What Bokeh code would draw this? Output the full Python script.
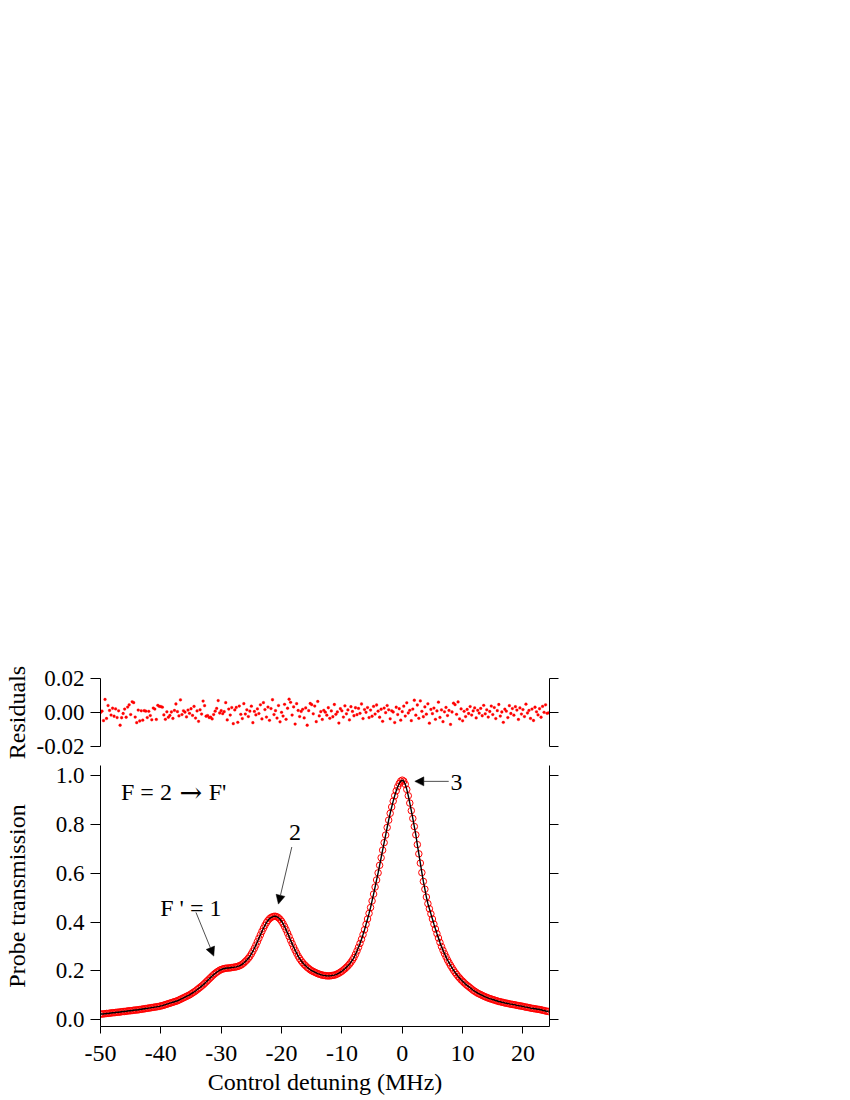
import numpy as np
from bokeh.plotting import figure
from bokeh.layouts import column
from bokeh.models import (LinearAxis, FixedTicker, NumeralTickFormatter, Arrow,
                          NormalHead, Label, Range1d, ColumnDataSource)
from bokeh.embed import file_html
from bokeh.resources import INLINE

FONT = "Liberation Serif"

# detuning grid (MHz), sampled every 0.25 MHz from -50 to 24.25
detuning = np.arange(298) * 0.25 - 50.0

transmission = [
    .023, .024, .024, .025, .026, .026, .027, .028, .029, .029,
    .030, .031, .031, .032, .033, .034, .034, .035, .036, .037,
    .037, .038, .039, .040, .040, .041, .042, .043, .044, .045,
    .046, .047, .048, .049, .050, .051, .052, .053, .054, .055,
    .057, .058, .060, .062, .064, .066, .068, .070, .072, .074,
    .076, .078, .081, .084, .087, .090, .093, .096, .099, .102,
    .106, .110, .114, .118, .123, .128, .133, .138, .143, .149,
    .155, .161, .167, .173, .179, .185, .190, .195, .199, .203,
    .206, .208, .210, .211, .212, .212, .213, .214, .215, .216,
    .217, .219, .221, .224, .228, .233, .239, .245, .252, .260,
    .270, .281, .293, .306, .320, .334, .348, .362, .375, .387,
    .398, .407, .414, .419, .422, .424, .424, .422, .418, .412,
    .404, .394, .382, .369, .355, .341, .326, .312, .298, .285,
    .273, .261, .251, .242, .234, .227, .221, .215, .210, .205,
    .201, .198, .195, .192, .189, .187, .185, .183, .182, .181,
    .180, .180, .180, .181, .182, .183, .185, .188, .191, .195,
    .199, .204, .209, .215, .221, .228, .236, .245, .255, .268,
    .282, .297, .313, .330, .349, .369, .391, .413, .436, .460,
    .487, .515, .544, .573, .602, .633, .664, .695, .726, .757,
    .788, .818, .846, .872, .896, .918, .938, .955, .968, .978,
    .982, .978, .965, .944, .918, .888, .857, .825, .792, .758,
    .718, .680, .642, .603, .567, .535, .503, .476, .455, .434,
    .413, .392, .372, .353, .335, .317, .300, .285, .271, .258,
    .245, .234, .223, .213, .203, .194, .186, .178, .171, .164,
    .158, .152, .146, .141, .136, .131, .126, .121, .117, .113,
    .109, .106, .103, .100, .097, .094, .092, .089, .087, .085,
    .083, .081, .079, .077, .075, .074, .072, .071, .069, .068,
    .067, .065, .064, .063, .062, .061, .059, .058, .057, .056,
    .055, .053, .052, .051, .050, .048, .047, .046, .045, .044,
    .043, .042, .041, .039, .038, .036, .035, .034,
]

residuals = [
    0.0000, 0.0008, -0.0048, 0.0077, -0.0035, 0.0041, 0.0012, -0.0015, 0.0025, -0.0022,
    0.0021, -0.0030, 0.0010, -0.0075, -0.0031, -0.0006, 0.0020, -0.0028, 0.0032, 0.0045,
    -0.0012, 0.0063, 0.0058, -0.0027, -0.0060, 0.0014, -0.0050, 0.0010, -0.0045, 0.0011,
    0.0008, -0.0030, 0.0007, -0.0018, -0.0043, 0.0026, 0.0020, -0.0041, 0.0042, 0.0036,
    0.0035, 0.0031, -0.0014, -0.0040, 0.0004, -0.0028, -0.0017, 0.0003, -0.0035, 0.0012,
    0.0050, 0.0005, -0.0020, 0.0074, -0.0012, 0.0010, 0.0002, -0.0026, 0.0014, -0.0005,
    0.0022, -0.0017, 0.0036, -0.0033, 0.0009, -0.0052, 0.0016, -0.0009, 0.0067, 0.0040,
    -0.0022, -0.0018, -0.0030, -0.0028, -0.0038, -0.0012, 0.0008, 0.0024, 0.0070, -0.0003,
    0.0011, -0.0007, 0.0005, 0.0058, -0.0044, 0.0020, -0.0015, 0.0029, -0.0066, 0.0015,
    0.0030, -0.0058, 0.0038, -0.0011, -0.0036, 0.0052, -0.0009, 0.0016, -0.0024, 0.0008,
    0.0037, -0.0060, 0.0006, -0.0014, 0.0021, -0.0006, 0.0045, -0.0038, 0.0058, 0.0017,
    -0.0027, 0.0032, -0.0046, 0.0023, 0.0075, -0.0012, 0.0011, -0.0033, 0.0041, -0.0055,
    0.0001, -0.0021, 0.0048, -0.0040, 0.0025, 0.0078, 0.0060, -0.0015, 0.0033, -0.0068,
    0.0052, 0.0012, -0.0024, 0.0006, 0.0019, -0.0032, 0.0027, -0.0075, 0.0011, 0.0053,
    0.0046, -0.0008, 0.0038, -0.0054, 0.0065, -0.0020, 0.0005, -0.0041, 0.0013, 0.0002,
    -0.0016, 0.0028, -0.0034, 0.0009, -0.0025, 0.0047, -0.0011, 0.0003, -0.0062, 0.0022,
    0.0010, -0.0027, 0.0039, -0.0008, 0.0015, -0.0044, 0.0034, 0.0006, -0.0019, 0.0028,
    -0.0013, 0.0024, -0.0005, 0.0050, -0.0036, 0.0017, 0.0001, 0.0029, -0.0030, 0.0014,
    -0.0022, 0.0036, -0.0009, 0.0044, 0.0008, -0.0028, 0.0019, -0.0052, 0.0026, -0.0001,
    0.0041, 0.0016, -0.0037, 0.0010, 0.0003, -0.0059, 0.0031, -0.0012, 0.0022, -0.0045,
    0.0005, 0.0037, -0.0021, 0.0057, -0.0003, 0.0013, -0.0048, 0.0020, 0.0072, -0.0016,
    0.0044, -0.0034, 0.0068, 0.0007, -0.0025, 0.0033, -0.0010, 0.0051, -0.0063, 0.0018,
    -0.0007, 0.0026, -0.0040, 0.0009, 0.0061, -0.0029, 0.0015, -0.0054, 0.0004, 0.0030,
    -0.0018, 0.0012, -0.0070, 0.0003, 0.0055, 0.0046, -0.0011, 0.0062, -0.0038, 0.0021,
    -0.0049, 0.0007, -0.0024, 0.0018, -0.0006, 0.0035, -0.0015, 0.0009, 0.0027, -0.0032,
    0.0013, -0.0004, 0.0024, -0.0019, 0.0042, -0.0008, 0.0016, -0.0027, 0.0006, 0.0038,
    -0.0012, 0.0029, -0.0036, 0.0011, 0.0047, -0.0021, 0.0003, -0.0058, 0.0019, 0.0008,
    -0.0030, 0.0040, -0.0006, 0.0023, -0.0016, 0.0034, 0.0014, -0.0041, 0.0027, -0.0009,
    0.0017, -0.0024, 0.0049, -0.0003, 0.0012, -0.0035, 0.0020, -0.0047, 0.0031, 0.0004,
    -0.0014, 0.0022, -0.0028, 0.0036, 0.0001, 0.0045, -0.0005, -0.0002,
]

x_ticks = [-50, -40, -30, -20, -10, 0, 10, 20]
y_ticks = [0.0, 0.2, 0.4, 0.6, 0.8, 1.0]
res_ticks = [-0.02, 0.0, 0.02]

src = ColumnDataSource(dict(x=detuning, t=transmission, r=residuals))

X_START, X_END = -50.0, 24.4
W = 569
BL, BR = 99, 20


def style_axis(ax, tick_out, font_size="23px"):
    ax.axis_line_color = "black"
    ax.axis_line_width = 1
    ax.major_tick_line_color = "black"
    ax.major_tick_line_width = 1
    ax.major_tick_out = tick_out
    ax.major_tick_in = 0
    ax.minor_tick_line_color = None
    ax.major_label_text_font = FONT
    ax.major_label_text_font_size = font_size
    ax.major_label_text_color = "black"
    ax.axis_label_text_font = FONT
    ax.axis_label_text_font_size = "24px"
    ax.axis_label_text_font_style = "normal"
    ax.axis_label_text_color = "black"


# ---------------- residuals panel ----------------
p1 = figure(width=W, height=760, x_range=Range1d(X_START, X_END),
            y_range=Range1d(-0.02, 0.02), output_backend="svg",
            toolbar_location=None, x_axis_location=None,
            min_border_left=BL, min_border_right=BR, min_border_top=678,
            min_border_bottom=14)
p1.outline_line_color = None
p1.xgrid.visible = False
p1.ygrid.visible = False

ly = p1.yaxis[0]
ly.ticker = FixedTicker(ticks=res_ticks)
ly.formatter = NumeralTickFormatter(format="0.00")
style_axis(ly, 10)
ly.major_label_standoff = 6
ly.axis_label = "Residuals"
ly.axis_label_standoff = 4

ry = LinearAxis(ticker=FixedTicker(ticks=res_ticks))
style_axis(ry, 9)
ry.major_label_text_color = None
p1.add_layout(ry, "right")

p1.scatter("x", "r", source=src, marker="circle", size=2.8,
           fill_color="red", line_color="red", line_width=0.3)

# ---------------- main panel ----------------
p2 = figure(width=W, height=340, x_range=Range1d(X_START, X_END),
            y_range=Range1d(-0.0275, 1.042), output_backend="svg",
            toolbar_location=None,
            min_border_left=BL, min_border_right=BR, min_border_top=5,
            min_border_bottom=74)
p2.outline_line_color = None
p2.xgrid.visible = False
p2.ygrid.visible = False

bx = p2.xaxis[0]
bx.ticker = FixedTicker(ticks=x_ticks)
bx.formatter = NumeralTickFormatter(format="0")
style_axis(bx, 7, "24px")
bx.major_label_standoff = 12
bx.axis_label = "Control detuning (MHz)"
bx.axis_label_standoff = 5

my = p2.yaxis[0]
my.ticker = FixedTicker(ticks=y_ticks)
my.formatter = NumeralTickFormatter(format="0.0")
style_axis(my, 10)
my.major_label_standoff = 6
my.axis_label = "Probe transmission"
my.axis_label_standoff = 23

ry2 = LinearAxis(ticker=FixedTicker(ticks=y_ticks))
style_axis(ry2, 9)
ry2.major_label_text_color = None
p2.add_layout(ry2, "right")

p2.scatter("x", "t", source=src, marker="circle", size=6.5,
           fill_color=None, line_color="red", line_width=1.0)
p2.line("x", "t", source=src, line_color="black", line_width=1.4)


# annotations
def lab(x, y, text, baseline="alphabetic", font=FONT, size="24px"):
    p2.add_layout(Label(x=x, y=y, text=text, text_font=font,
                        text_font_size=size, text_baseline=baseline,
                        text_align="left", text_color="black"))


lab(-46.6, 0.932, "F = 2")
lab(-36.9, 0.932, "\u2192", font="DejaVu Serif", size="27px")
lab(-32.06, 0.932, "F'")
lab(8.0, 0.9725, "3", baseline="middle")
lab(-18.75, 0.768, "2", baseline="middle")
lab(-40.1, 0.460, "F ' = 1")


def head():
    return NormalHead(size=9, fill_color="black", line_color="black",
                      line_width=0.5)


p2.add_layout(Arrow(end=head(), x_start=7.7, y_start=0.977, x_end=2.08,
                    y_end=0.977, line_color="#222222", line_width=0.8))
p2.add_layout(Arrow(end=head(), x_start=-18.30, y_start=0.708, x_end=-20.52,
                    y_end=0.474, line_color="#222222", line_width=0.8))
p2.add_layout(Arrow(end=head(), x_start=-34.18, y_start=0.440, x_end=-31.23,
                    y_end=0.261, line_color="#222222", line_width=0.8))

layout = column(p1, p2, spacing=0)

open("out.html", "w").write(file_html(layout, INLINE))
